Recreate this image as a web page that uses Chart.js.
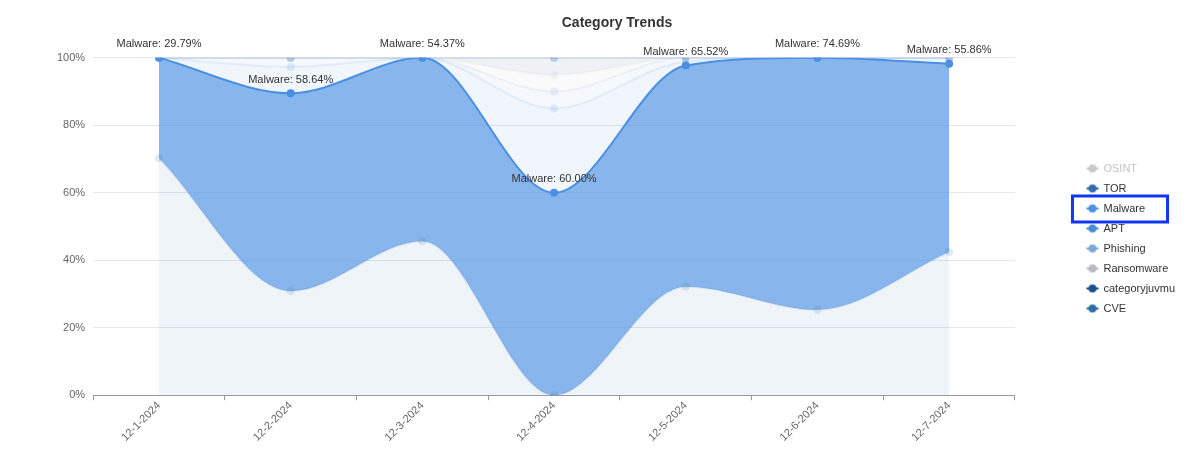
<!DOCTYPE html>
<html><head><meta charset="utf-8">
<script src="https://cdn.jsdelivr.net/npm/chart.js@4"></script>
<style>html,body{margin:0;padding:0;background:#fff}#wrap{width:1190px;height:475px;position:relative}</style>
</head><body><div id="wrap"><canvas id="c"></canvas></div>
<script>
// ---- data (share of each category per day, %) ----
const days = ['12-1-2024','12-2-2024','12-3-2024','12-4-2024','12-5-2024','12-6-2024','12-7-2024'];
const osint        = [0, 0, 0, 0, 0, 0, 0];
const tor          = [70.21, 30.86, 45.63, 0, 32.18, 25.31, 42.41];
const malware      = [29.79, 58.64, 54.37, 60.00, 65.52, 74.69, 55.86];
const apt          = [0, 7.80, 0, 25, 1.15, 0, 1.73];
const phishing     = [0, 2.70, 0, 5, 1.15, 0, 0];
const ransomware   = [0, 0, 0, 5, 0, 0, 0];
const categoryjuvmu= [0, 0, 0, 5, 0, 0, 0];
const cve          = [0, 0, 0, 0, 0, 0, 0];
const yTickValues  = [0, 20, 40, 60, 80, 100];

const highlighted = 'Malware';

Chart.defaults.font.family = "'Liberation Sans', Arial, Helvetica, sans-serif";

function rgba(hex, a){
  const n = parseInt(hex.slice(1),16);
  return `rgba(${(n>>16)&255},${(n>>8)&255},${n&255},${a})`;
}
function glyph(color){
  const c = document.createElement('canvas');
  c.width = 14; c.height = 10;
  const g = c.getContext('2d');
  g.strokeStyle = color; g.lineWidth = 2;
  g.beginPath(); g.moveTo(1,5); g.lineTo(13,5); g.stroke();
  g.fillStyle = color;
  g.beginPath(); g.arc(7,5,4,0,Math.PI*2); g.fill();
  return c;
}

const series = [
  {name:'OSINT', data: osint, color:'#c8c8c8', hidden:true},
  {name:'TOR', data: tor, color:'#2e6cab'},
  {name:'Malware', data: malware, color:'#4a90e2'},
  {name:'APT', data: apt, color:'#458cd8'},
  {name:'Phishing', data: phishing, color:'#7fa6d4'},
  {name:'Ransomware', data: ransomware, color:'#b7babe'},
  {name:'categoryjuvmu', data: categoryjuvmu, color:'#1c4e8c'},
  {name:'CVE', data: cve, color:'#2c6ca8'}
];

const datasets = series.map((s, i) => {
  const on = s.name === highlighted;
  return {
    label: s.name,
    data: s.data,
    hidden: !!s.hidden,
    fill: i <= 1 ? 'origin' : '-1',
    cubicInterpolationMode: 'monotone',
    borderWidth: 2,
    borderColor: on ? s.color : rgba(s.color, 0.10),
    backgroundColor: on ? rgba(s.color, 0.66) : rgba(s.color, 0.075),
    pointRadius: 4,
    pointBorderWidth: 0,
    pointBackgroundColor: on ? s.color : rgba(s.color, 0.14),
    pointBorderColor: on ? s.color : rgba(s.color, 0.14),
    legendColor: s.color
  };
});

const labelPlugin = {
  id: 'valueLabels',
  afterDatasetsDraw(chart){
    const ctx = chart.ctx;
    chart.data.datasets.forEach((ds, i) => {
      if (ds.label !== highlighted) return;
      const meta = chart.getDatasetMeta(i);
      ctx.save();
      ctx.font = "11px 'Liberation Sans', Arial, sans-serif";
      ctx.textAlign = 'center';
      ctx.textBaseline = 'bottom';
      ctx.fillStyle = '#333';
      meta.data.forEach((pt, j) => {
        const txt = ds.label + ': ' + Number(ds.data[j]).toFixed(2) + '%';
        ctx.fillText(txt, pt.x, pt.y - 8);
      });
      ctx.restore();
    });
  },
  afterDraw(chart){
    const lg = chart.legend;
    if (!lg || !lg.legendHitBoxes) return;
    const idx = lg.legendItems.findIndex(it => it.text === highlighted);
    if (idx < 0) return;
    const hb = lg.legendHitBoxes[idx];
    const ctx = chart.ctx;
    const cy = hb.top + hb.height/2;
    ctx.save();
    ctx.strokeStyle = '#1236f0';
    ctx.lineWidth = 3;
    ctx.strokeRect(hb.left - 14.5, cy - 12.5, hb.width + 37, 26);
    ctx.restore();
  }
};

new Chart(document.getElementById('c'), {
  type: 'line',
  data: { labels: days, datasets },
  plugins: [labelPlugin],
  options: {
    responsive: true,
    maintainAspectRatio: false,
    animation: false,
    layout: { padding: { left: 49, right: 5, top: 0, bottom: 32 } },
    plugins: {
      title: {
        display: true, text: 'Category Trends', color: '#333',
        font: { size: 14, weight: 'bold' }, padding: { top: 15, bottom: 26 }
      },
      tooltip: { enabled: false },
      legend: {
        position: 'right',
        align: 'center',
        onClick: null,
        title: { display: true, text: ' ', font: { size: 10 }, padding: { top: 11, bottom: 11 } },
        labels: {
          usePointStyle: true,
          boxWidth: 11,
          padding: 9,
          font: { size: 11 },
          generateLabels(chart){
            return chart.data.datasets.map((ds, i) => {
              const grey = ds.hidden;
              return {
                text: ds.label,
                fillStyle: ds.legendColor,
                strokeStyle: ds.legendColor,
                fontColor: grey ? '#c4c4c4' : '#333',
                pointStyle: glyph(ds.legendColor),
                hidden: false,
                lineWidth: 0,
                datasetIndex: i
              };
            });
          }
        }
      }
    },
    scales: {
      x: {
        offset: true,
        grid: { display: true, drawOnChartArea: false, offset: true, tickLength: 5, color: '#999', tickColor: '#999' },
        border: { display: true, color: '#999' },
        ticks: { minRotation: 45, maxRotation: 45, color: '#666', font: { size: 11 }, padding: -1 }
      },
      y: {
        stacked: true,
        min: 0, max: 100,
        afterBuildTicks(scale){ scale.ticks = yTickValues.map(v => ({ value: v })); },
        grid: { color: '#e3e8f2', drawTicks: false },
        border: { display: false },
        ticks: { color: '#666', font: { size: 11 }, padding: 8, callback: v => v + '%' }
      },
      yPad: {
        position: 'right',
        display: true,
        grid: { display: false },
        border: { display: false },
        ticks: { display: false },
        afterFit(scale){ scale.width = 63; }
      }
    }
  }
});
</script>
</body></html>
